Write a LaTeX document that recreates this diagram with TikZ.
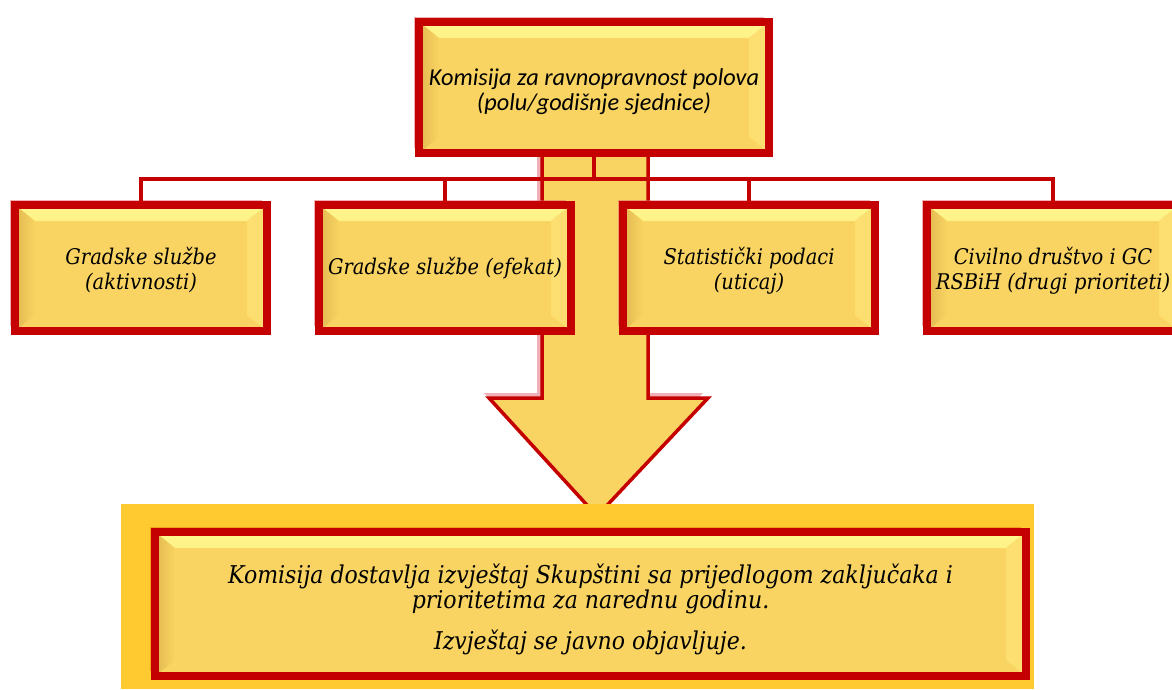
\documentclass[tikz,border=0pt]{standalone}
\usepackage{fontspec}
\setmainfont{DejaVu Serif Condensed}
\newfontfamily\topfont{Carlito}
\usepackage{tikz}
\usetikzlibrary{shadows}
\definecolor{boxfill}{RGB}{249,212,98}
\definecolor{bevtop}{RGB}{255,246,140}
\definecolor{bevleft}{RGB}{226,184,80}
\definecolor{bevright}{RGB}{253,222,112}
\definecolor{frame}{RGB}{196,0,0}
\definecolor{glow}{RGB}{225,100,110}
\definecolor{outerfill}{RGB}{255,202,48}
\definecolor{innerglow}{RGB}{225,120,20}

\begin{document}
\begin{tikzpicture}
	[x=1pt,y=-1pt,
	every node/.style={draw=frame,line width=8pt,fill=boxfill,align=center,
		font=\fontsize{21.6}{25}\selectfont\itshape,
		minimum width=252pt,minimum height=126pt,
		path picture={
			\shade[top color=bevtop,bottom color=boxfill] (path picture bounding box.north west) -- (path picture bounding box.north east)
				-- ([xshift=-20pt,yshift=-16pt]path picture bounding box.north east) -- ([xshift=20pt,yshift=-16pt]path picture bounding box.north west) -- cycle;
			\shade[left color=bevleft,right color=boxfill] (path picture bounding box.north west) -- ([xshift=20pt,yshift=-16pt]path picture bounding box.north west)
				-- ([xshift=20pt,yshift=16pt]path picture bounding box.south west) -- (path picture bounding box.south west) -- cycle;
			\fill[bevright] (path picture bounding box.north east) -- ([xshift=-20pt,yshift=-16pt]path picture bounding box.north east)
				-- ([xshift=-20pt,yshift=16pt]path picture bounding box.south east) -- (path picture bounding box.south east) -- cycle;
		}},
	glowing/.style={drop shadow={shadow xshift=-5pt,shadow yshift=5pt,fill=#1,opacity=.5}},
	link/.style={draw=frame,line width=3.5pt}]
	\useasboundingbox (0,0) rectangle (1172,689);

	\draw[link,fill=boxfill,glowing=glow] (542,150) -- (542,398) -- (489,398) -- (597,516) -- (708,398) -- (648,398) -- (648,150);

	\node[glowing=glow,minimum width=350pt,minimum height=131pt,font=\fontsize{24.3}{25}\selectfont\topfont\itshape] (n1) at (594,87.5) {\rule{0pt}{25pt}Komisija za ravnopravnost polova\\(polu/godišnje sjednice)};
	\node[glowing=glow] (n2) at (141,268) {\rule{0pt}{22pt}Gradske službe\\(aktivnosti)};
	\node[glowing=glow] (n3) at (445,268) {Gradske službe (efekat)};
	\node[glowing=glow] (n4) at (749,268) {\rule{0pt}{22pt}Statistički podaci\\(uticaj)};
	\node[glowing=glow] (n5) at (1053,268) {\rule{0pt}{22pt}Civilno društvo i GC\\RSBiH (drugi prioriteti)};

	\foreach \to in {n2,n3,n4,n5}
	\draw[link] (n1.south) -- ++(0,22) -| (\to.north);

	\fill[outerfill] (121,504) rectangle (1034,689);
	\node[glowing=innerglow,minimum width=871pt,minimum height=144pt,font=\fontsize{24.5}{25}\selectfont\itshape] (n6) at (590.5,604)
		{\rule{0pt}{31pt}Komisija dostavlja izvještaj Skupštini sa prijedlogom zaključaka i\\prioritetima za narednu godinu.\\[15pt]Izvještaj se javno objavljuje.};
	\end{tikzpicture}
\end{document}
